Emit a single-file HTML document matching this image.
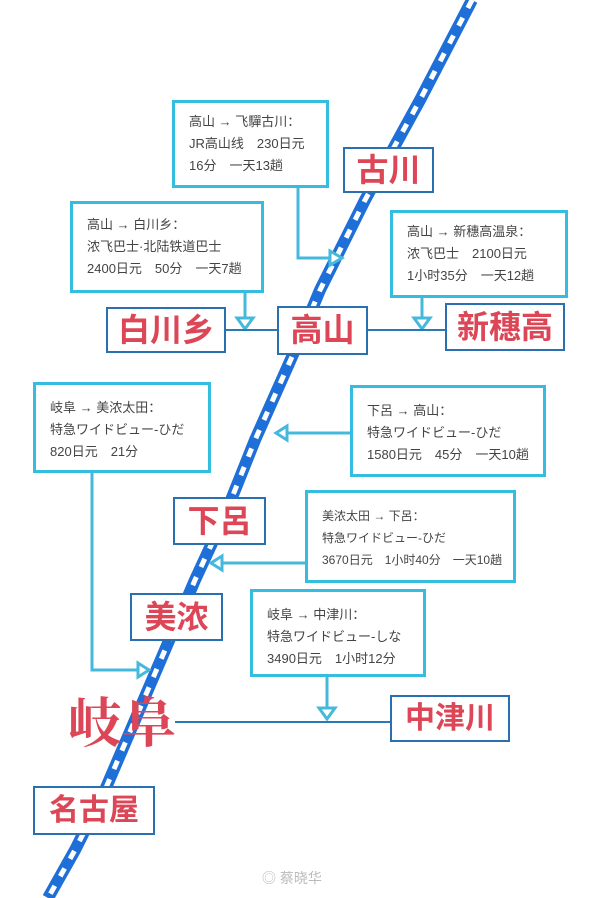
<!DOCTYPE html>
<html><head><meta charset="utf-8"><style>
html,body{margin:0;padding:0;background:#fff;}
body{width:600px;height:898px;position:relative;overflow:hidden;font-family:"Liberation Sans","Noto Sans CJK SC",sans-serif;}
.box{position:absolute;border:3px solid #35bde0;background:#fff;box-sizing:border-box;color:#444;font-size:13px;line-height:22px;padding:8px 0 0 14px;white-space:nowrap;font-family:"Liberation Sans","WenQuanYi Zen Hei","Noto Sans CJK SC",sans-serif;}
.lbl{position:absolute;border:2px solid #2a6fb0;background:#fff;box-sizing:border-box;color:#dc4656;font-family:"Liberation Sans","Noto Sans CJK SC",sans-serif;font-weight:bold;text-align:center;white-space:nowrap;}
</style></head><body>
<svg width="600" height="898" style="position:absolute;left:0;top:0">
<polyline points="472,0 420,100 365,200 320,290 295,350 255,440 225,515 195,580 165,650 135,720 105,790 75,850 48,898" fill="none" stroke="#1f6fd8" stroke-width="12"/>
<polyline points="472,0 420,100 365,200 320,290 295,350 255,440 225,515 195,580 165,650 135,720 105,790 75,850 48,898" fill="none" stroke="#fff" stroke-width="5" stroke-dasharray="9,11"/>
<g stroke="#45b9dc" stroke-width="3" fill="none">
<polyline points="298,185 298,258 330,258"/>
<polygon points="330,251 342,258 330,265" fill="#fff"/>
<polyline points="245,290 245,318"/>
<polygon points="237,318 253,318 245,329" fill="#fff"/>
<polyline points="422,295 422,318"/>
<polygon points="414,318 430,318 422,329" fill="#fff"/>
<polyline points="350,433 287,433"/>
<polygon points="287,426 276,433 287,440" fill="#fff"/>
<polyline points="305,563 222,563"/>
<polygon points="222,556 211,563 222,570" fill="#fff"/>
<polyline points="92,470 92,670 138,670"/>
<polygon points="138,663 149,670 138,677" fill="#fff"/>
<polyline points="327,675 327,708"/>
<polygon points="319,708 335,708 327,719" fill="#fff"/>
</g>
<g stroke="#2a7ab8" stroke-width="2">
<line x1="226" y1="330" x2="278" y2="330"/>
<line x1="366" y1="330" x2="446" y2="330"/>
<line x1="175" y1="722" x2="392" y2="722"/>
</g>
</svg>

<div class="box" style="left:172px;top:100px;width:157px;height:88px;">高山 → 飞驒古川：<br>JR高山线　230日元<br>16分　一天13趟</div>
<div class="box" style="left:70px;top:201px;width:194px;height:92px;padding-top:10px;">高山 → 白川乡：<br>浓飞巴士·北陆铁道巴士<br>2400日元　50分　一天7趟</div>
<div class="box" style="left:390px;top:210px;width:178px;height:88px;">高山 → 新穗高温泉：<br>浓飞巴士　2100日元<br>1小时35分　一天12趟</div>
<div class="box" style="left:33px;top:382px;width:178px;height:91px;padding-top:12px;">岐阜 → 美浓太田：<br>特急ワイドビュー-ひだ<br>820日元　21分</div>
<div class="box" style="left:350px;top:385px;width:196px;height:92px;padding-top:12px;">下呂 → 高山：<br>特急ワイドビュー-ひだ<br>1580日元　45分　一天10趟</div>
<div class="box" style="left:305px;top:490px;width:211px;height:93px;padding-top:12px;font-size:12px;">美浓太田 → 下呂：<br>特急ワイドビュー-ひだ<br>3670日元　1小时40分　一天10趟</div>
<div class="box" style="left:250px;top:589px;width:176px;height:88px;padding-top:12px;">岐阜 → 中津川：<br>特急ワイドビュー-しな<br>3490日元　1小时12分</div>

<div class="lbl" style="left:343px;top:147px;width:91px;height:46px;font-size:32px;line-height:42px;">古川</div>
<div class="lbl" style="left:106px;top:307px;width:120px;height:46px;font-size:32px;line-height:42px;">白川乡</div>
<div class="lbl" style="left:277px;top:306px;width:91px;height:49px;font-size:32px;line-height:45px;">高山</div>
<div class="lbl" style="left:445px;top:303px;width:120px;height:48px;font-size:32px;line-height:44px;">新穗高</div>
<div class="lbl" style="left:173px;top:497px;width:93px;height:48px;font-size:32px;line-height:44px;">下呂</div>
<div class="lbl" style="left:130px;top:593px;width:93px;height:48px;font-size:32px;line-height:44px;">美浓</div>
<div style="position:absolute;left:68px;top:692px;font-family:'Liberation Serif','Noto Serif CJK SC',serif;font-weight:bold;color:#dc4656;font-size:54px;line-height:64px;">岐阜</div>
<div class="lbl" style="left:390px;top:695px;width:120px;height:47px;font-size:30px;line-height:43px;">中津川</div>
<div class="lbl" style="left:33px;top:786px;width:122px;height:49px;font-size:30px;line-height:45px;">名古屋</div>
<div style="position:absolute;left:262px;top:868px;color:#bbb;font-size:14px;font-family:'Liberation Sans','Noto Sans CJK SC',sans-serif;">◎ 蔡晓华</div>
</body></html>
